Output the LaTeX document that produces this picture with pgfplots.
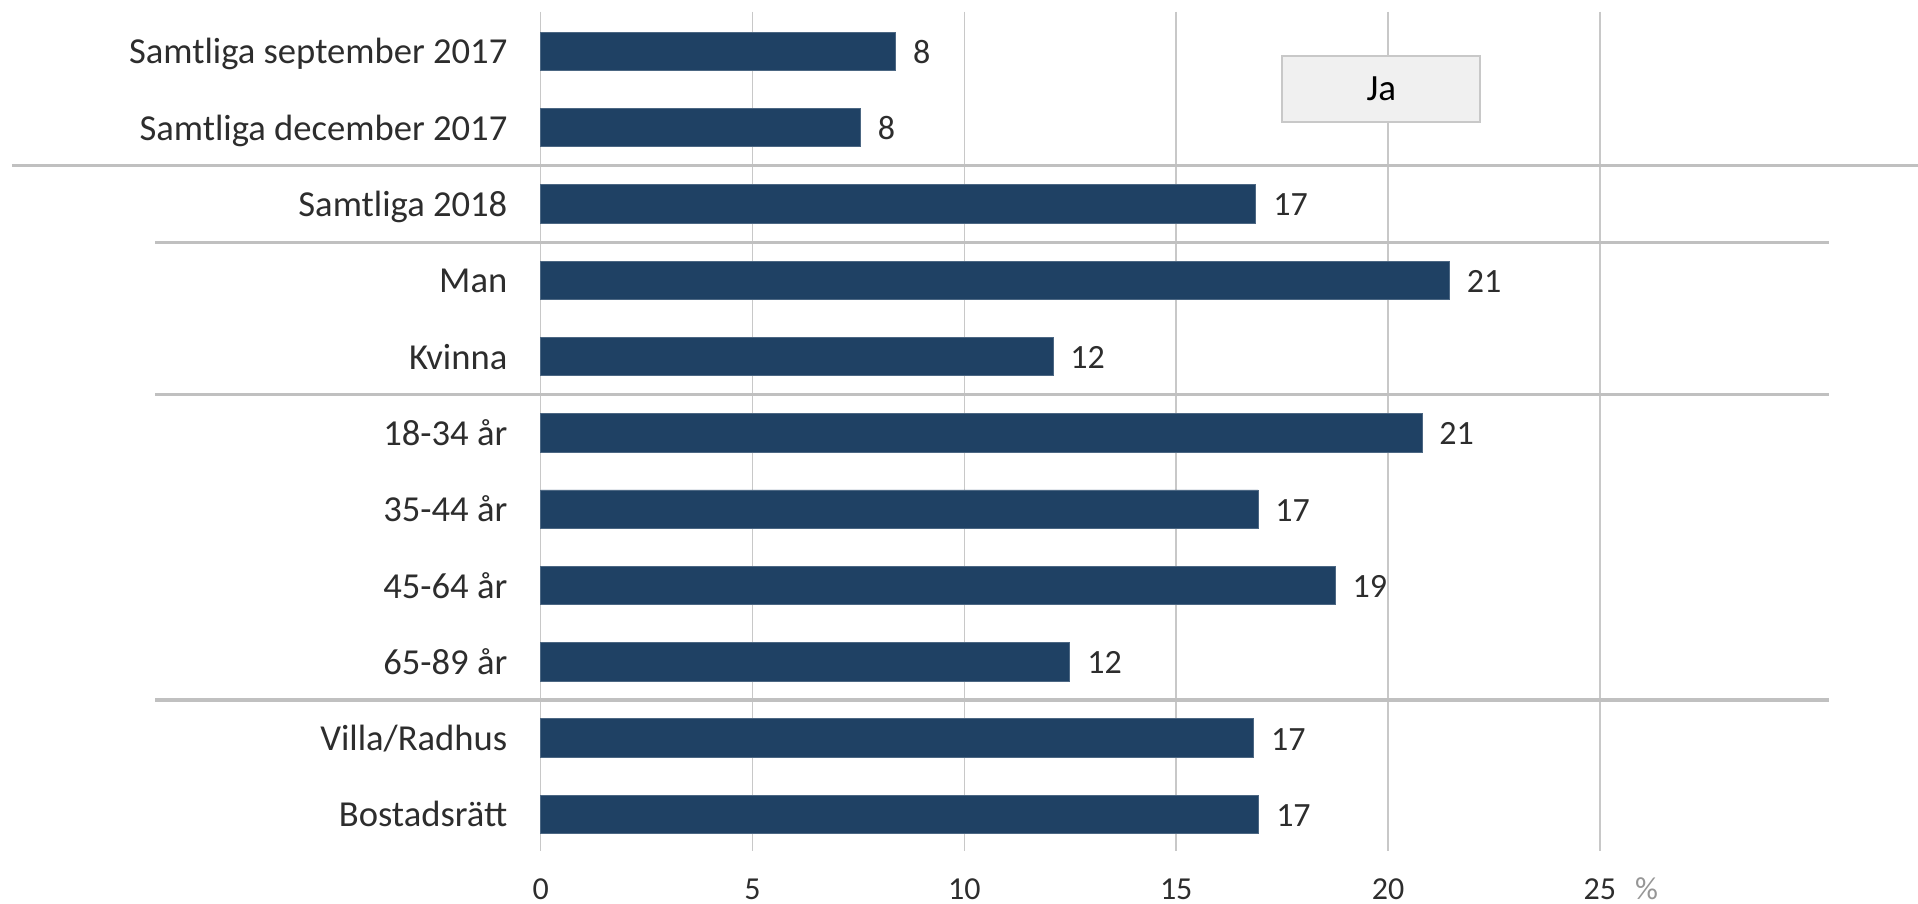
\documentclass[border=0pt]{standalone}
\usepackage{fontspec}
\setmainfont{Carlito}
\usepackage{pgfplots}
\usepackage{pgfplotstable}
\pgfplotsset{compat=1.18}
\definecolor{barc}{RGB}{31,65,100}
\definecolor{txt}{RGB}{45,45,45}
\definecolor{gridc}{RGB}{200,200,200}
\definecolor{sepc}{RGB}{192,192,192}
\definecolor{legf}{RGB}{240,240,240}
\definecolor{pct}{RGB}{150,150,150}

\pgfplotstableread{
y x lab
0 8.38 8
1 7.55 8
2 16.88 17
3 21.45 21
4 12.09 12
5 20.80 21
6 16.93 17
7 18.75 19
8 12.49 12
9 16.83 17
10 16.95 17
}\data

\begin{document}
\begin{tikzpicture}
\useasboundingbox (-270.35bp,-26.5bp) rectangle (688.65bp,425.5bp);
\begin{axis}[
  at={(0,0)}, anchor=south west,
  scale only axis, width=644bp, height=419.65bp,
  xmin=0, xmax=30.4, ymin=-0.52, ymax=10.48, y dir=reverse,
  xbar, bar width=19.2bp,
  axis line style={draw=none},
  major tick length=0pt,
  xtick={0,5,10,15,20,25},
  ytick={0,1,2,3,4,5,6,7,8,9,10},
  yticklabels={Samtliga september 2017,Samtliga december 2017,Samtliga 2018,Man,Kvinna,18-34 år,35-44 år,45-64 år,65-89 år,Villa/Radhus,Bostadsrätt},
  xmajorgrids, grid style={gridc, line width=0.75bp},
  /pgf/number format/assume math mode=true,
  xticklabel style={font=\fontsize{16bp}{18bp}\selectfont, text=txt, anchor=center, inner sep=0pt, yshift=-19bp},
  yticklabel style={font=\fontsize{18.3bp}{20bp}\selectfont, text=txt, anchor=base east, inner sep=0pt, xshift=-16.5bp, yshift=-6.3bp},
  clip=false,
  nodes near coords,
  point meta=explicit symbolic,
  every node near coord/.append style={font=\fontsize{17bp}{19bp}\selectfont, text=txt, anchor=base west, inner sep=0pt, xshift=8.5bp, yshift=-6bp},
]
\addplot[fill=barc, draw=barc!80!white, line width=0.4bp] table[x=x, y=y, meta=lab] {\data};
\draw[sepc, line width=1.6bp] (axis cs:-12.48,1.5) -- (axis cs:32.6,1.5);
\draw[sepc, line width=1.6bp] (axis cs:-9.1,2.5) -- (axis cs:30.4,2.5);
\draw[sepc, line width=1.6bp] (axis cs:-9.1,4.5) -- (axis cs:30.4,4.5);
\draw[sepc, line width=1.6bp] (axis cs:-9.1,8.5) -- (axis cs:30.4,8.5);
\node[fill=legf, draw=gridc, line width=0.8bp, minimum width=99bp, minimum height=33bp, inner sep=0pt, font=\fontsize{18.5bp}{20bp}\selectfont, text=black] at (axis cs:19.84,0.49) {Ja};
\node[font=\fontsize{16bp}{18bp}\selectfont, text=pct, anchor=center, inner sep=0pt] at ([yshift=-19bp]axis cs:26.1,10.48) {\%};
\end{axis}
\end{tikzpicture}
\end{document}
